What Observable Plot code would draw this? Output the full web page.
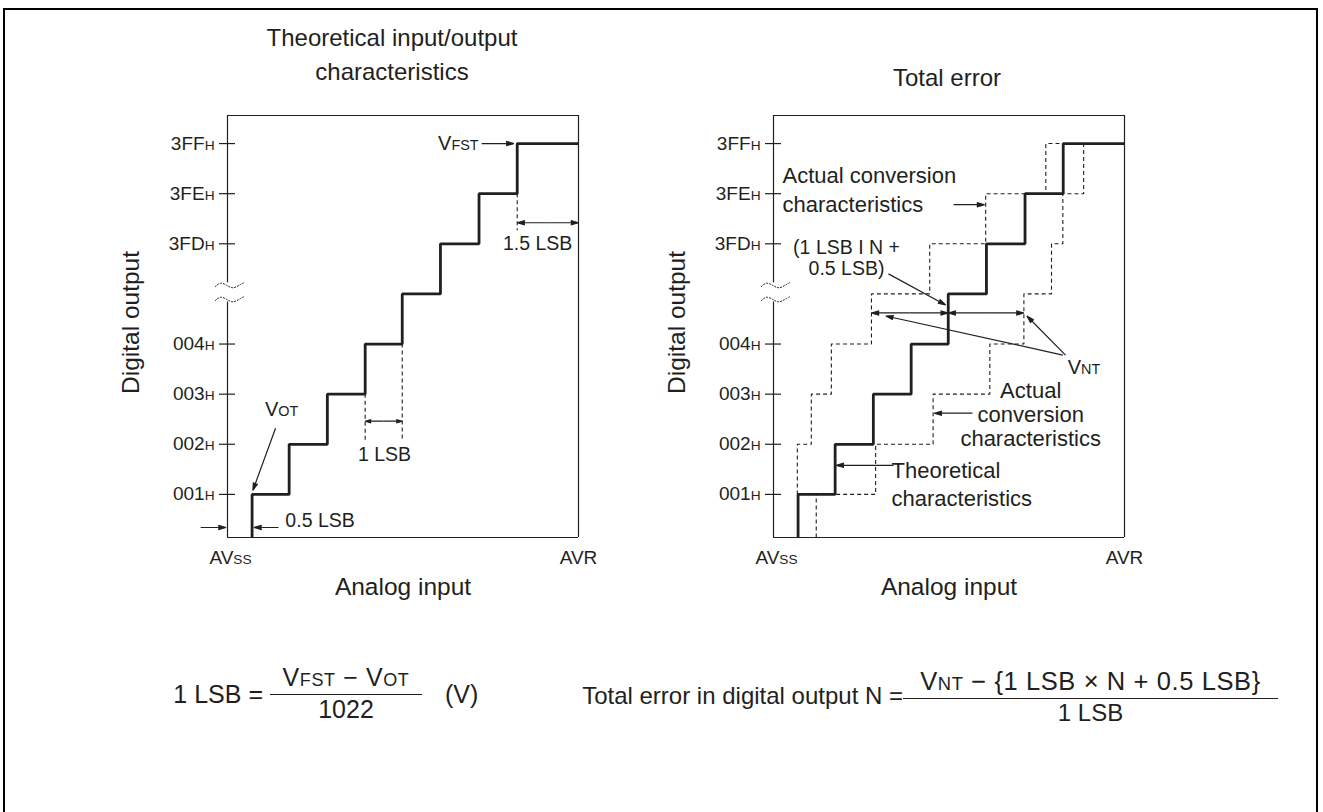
<!DOCTYPE html>
<html>
<head>
<meta charset="utf-8">
<script src="https://cdn.jsdelivr.net/npm/d3@7"></script>
<script src="https://cdn.jsdelivr.net/npm/@observablehq/plot@0.6"></script>
<style>
  html, body { margin: 0; padding: 0; background: #fff; }
  #page { position: relative; width: 1323px; height: 812px; overflow: hidden; background: #fff;
          font-family: "Liberation Sans", Arial, Helvetica, sans-serif; color: #231f20; }
  .frame { position: absolute; left: 3px; top: 8px; width: 1311px; height: 900px; border: 2.5px solid #000; }
  .abs { position: absolute; white-space: nowrap; }
  .title { font-size: 24px; line-height: 34px; text-align: center; }
  .f { font-size: 25px; line-height: 30px; }
  .s { font-size: 0.72em; }
  .frac { text-align: center; }
  .frac .num { line-height: 28px; border-bottom: 1.6px solid #231f20; }
  .frac .den { line-height: 28px; }
  .plot { position: absolute; }
</style>
</head>
<body>
<div id="page">
  <div class="frame"></div>
  <div class="abs title" style="left:242px; top:21px; width:300px;">Theoretical input/output<br>characteristics</div>
  <div class="abs title" style="left:797px; top:61px; width:300px;">Total error</div>

  <div class="abs f" style="left:143px; top:679px; width:120px; text-align:right;">1 LSB =</div>
  <div class="abs f frac" style="left:270px; top:663px; width:152px;">
    <div class="num" style="letter-spacing:0.6px;">V<span class="s">FST</span> − V<span class="s">OT</span></div>
    <div class="den">1022</div>
  </div>
  <div class="abs f" style="left:445px; top:679px;">(V)</div>

  <div class="abs f" style="left:503px; top:681px; width:400px; text-align:right; font-size:24px;">Total error in digital output N =</div>
  <div class="abs f frac" style="left:903px; top:667px; width:375px; font-size:24px;">
    <div class="num" style="font-size:25.5px; letter-spacing:0.6px;">V<span class="s">NT</span> − {1 LSB × N + 0.5 LSB}</div>
    <div class="den">1 LSB</div>
  </div>

  <div id="left" class="plot" style="left:100px; top:100px;"></div>
  <div id="right" class="plot" style="left:646px; top:100px;"></div>
</div>
<script>
// ---------- data (x in LSB units from AVss, y in code rows) ----------
const levelCodes = ["001", "002", "003", "004", "3FD", "3FE", "3FF"];
const levelTicks = [1, 2, 3, 4, 6, 7, 8];
const xMax = 9.28;          // AVR
const yMin = 0.14, yMax = 8.56;
const breakLo = 4.84, breakHi = 5.22;
// theoretical characteristic: x where output steps up to row i+1
const theoryRise = [0.65, 1.63, 2.64, 3.64, 4.62, 5.63, 6.65, 7.66];
// actual conversion (early): starts at row 1, x where it steps up to rows 2..8
const earlyRise = [0.63, 1.0, 1.53, 2.59, 4.13, 5.61, 7.2];
// actual conversion (late): x where it steps up to rows 1..8
const lateRise = [1.13, 2.7, 4.22, 5.72, 6.62, 7.35, 7.65, 8.2];
// axis break symbol (offsets)
const waveDx = [-0.32, -0.18, -0.02, 0.14, 0.3, 0.42];
const waveDy = [-0.02, 0.07, 0.0, -0.07, 0.0, 0.05];

const ink = "#231f20";
const font = '"Liberation Sans", Arial, Helvetica, sans-serif';

const theoryPts = [{x: theoryRise[0], y: yMin}, ...theoryRise.map((x, i) => ({x, y: i + 1})), {x: xMax, y: 8}];
const earlyPts = [{x: earlyRise[0], y: 1}, ...earlyRise.map((x, i) => ({x, y: i + 2})), {x: theoryRise[7], y: 8}];
const latePts = [{x: lateRise[0], y: yMin}, ...lateRise.map((x, i) => ({x, y: i + 1}))];
const wavePts = [breakHi - 0.05, breakLo + 0.05].flatMap((b, k) =>
  waveDx.map((dx, i) => ({x: dx, y: b + waveDy[i], k})));

function axisMarks() {
  return [
    Plot.ruleY([yMin, yMax], {x1: 0, x2: xMax, stroke: ink, strokeWidth: 1.2}),
    Plot.ruleX([xMax], {y1: yMin, y2: yMax, stroke: ink, strokeWidth: 1.2}),
    Plot.ruleX([{a: yMin, b: breakLo}, {a: breakHi, b: yMax}], {x: () => 0, y1: "a", y2: "b", stroke: ink, strokeWidth: 1.2}),
    Plot.line(wavePts, {x: "x", y: "y", z: "k", curve: "basis", stroke: ink, strokeWidth: 1, strokeDasharray: "1.2 1.8"}),
    Plot.ruleY(levelTicks, {x1: 0, x2: 0, insetLeft: -8, insetRight: -8, stroke: ink, strokeWidth: 1.2}),
    Plot.text(levelTicks, {x: () => 0, y: d => d, text: (d, i) => levelCodes[i] + "_H", textAnchor: "end", dx: -13, fontSize: 19}),
    Plot.text(["AV_SS"], {x: () => 0, frameAnchor: "bottom", lineAnchor: "middle", dy: 20, dx: 3, fontSize: 19}),
    Plot.text(["AVR"], {x: () => xMax, frameAnchor: "bottom", lineAnchor: "middle", dy: 20, fontSize: 19}),
    Plot.text(["Analog input"], {frameAnchor: "bottom", lineAnchor: "middle", dy: 50, fontSize: 24.5}),
    Plot.text(["Digital output"], {frameAnchor: "left", textAnchor: "middle", rotate: -90, dx: -96, dy: -4, fontSize: 24.5})
  ];
}

function dbl(x1, x2, y) {
  const m = (x1 + x2) / 2;
  return [{x1: m, y1: y, x2: x1, y2: y}, {x1: m, y1: y, x2: x2, y2: y}];
}
function arrows(data) {
  return Plot.arrow(data, {x1: "x1", y1: "y1", x2: "x2", y2: "y2", stroke: ink, fill: ink, strokeWidth: 1.2,
    headLength: 10, headAngle: 32, strokeLinecap: "butt", strokeLinejoin: "miter"});
}
function stepLine(pts, dashed) {
  return Plot.line(pts, {x: "x", y: "y", curve: "step-after", stroke: ink,
    strokeWidth: dashed ? 1.1 : 2.8, strokeDasharray: dashed ? "4 3" : null,
    strokeLinejoin: "miter", strokeLinecap: "butt"});
}

function subs(svg) {
  svg.querySelectorAll("text").forEach(t => {
    if (t.children.length) return;
    const s = t.textContent;
    if (!s.includes("_")) return;
    const parts = s.split("_");
    t.textContent = "";
    parts.forEach((p, i) => {
      if (i % 2 === 0) t.appendChild(document.createTextNode(p));
      else {
        const ts = document.createElementNS("http://www.w3.org/2000/svg", "tspan");
        ts.setAttribute("font-size", "0.72em");
        ts.textContent = p;
        t.appendChild(ts);
      }
    });
  });
  return svg;
}

const common = {
  width: 520, height: 510,
  marginLeft: 127, marginRight: 42, marginTop: 15, marginBottom: 73,
  x: {domain: [0, xMax], axis: null},
  y: {domain: [yMin, yMax], axis: null},
  style: {fontFamily: font, fontSize: "18px", color: ink, background: "none", overflow: "visible"}
};

// ---------- left: theoretical ----------
const left = Plot.plot({
  ...common,
  marks: [
    ...axisMarks(),
    Plot.ruleX([{x: theoryRise[3], a: 3, b: 2.08}, {x: theoryRise[4], a: 4, b: 2.08}, {x: theoryRise[7], a: 7, b: 6.26}],
      {x: "x", y1: "a", y2: "b", stroke: ink, strokeWidth: 1.1, strokeDasharray: "4 3"}),
    stepLine(theoryPts, false),
    arrows([
      {x1: 6.72, y1: 8, x2: 7.57, y2: 8},
      ...dbl(theoryRise[7], xMax, 6.42),
      ...dbl(theoryRise[3], theoryRise[4], 2.46),
      {x1: 1.27, y1: 2.32, x2: 0.67, y2: 1.08},
      {x1: -0.71, y1: 0.34, x2: -0.04, y2: 0.34},
      {x1: 1.35, y1: 0.34, x2: 0.7, y2: 0.34}
    ]),
    Plot.text(["V_FST"], {x: () => 6.64, y: () => 8, textAnchor: "end", fontSize: 20}),
    Plot.text(["1.5 LSB"], {x: () => 8.2, y: () => 6.0, fontSize: 19.5}),
    Plot.text(["1 LSB"], {x: () => 4.15, y: () => 1.8, fontSize: 19.5}),
    Plot.text(["V_OT"], {x: () => 1.43, y: () => 2.7, fontSize: 20}),
    Plot.text(["0.5 LSB"], {x: () => 1.53, y: () => 0.48, textAnchor: "start", fontSize: 19.5})
  ]
});
document.getElementById("left").appendChild(subs(left));

// ---------- right: total error ----------
const right = Plot.plot({
  ...common,
  marks: [
    ...axisMarks(),
    stepLine(earlyPts, true),
    stepLine(latePts, true),
    stepLine(theoryPts, false),
    arrows([
      {x1: 4.76, y1: 6.78, x2: 5.58, y2: 6.78},
      {x1: 3.04, y1: 5.4, x2: 4.55, y2: 4.78},
      ...dbl(earlyRise[3], theoryRise[4], 4.62),
      ...dbl(theoryRise[4], lateRise[4], 4.62),
      {x1: 7.72, y1: 3.78, x2: 6.7, y2: 4.56},
      {x1: 7.65, y1: 3.78, x2: 2.97, y2: 4.56},
      {x1: 5.26, y1: 2.62, x2: 4.25, y2: 2.62},
      {x1: 3.17, y1: 1.58, x2: 1.66, y2: 1.58}
    ]),
    Plot.text(["Actual conversion\ncharacteristics"], {x: () => 0.24, y: () => 7.11, textAnchor: "start", fontSize: 22, lineHeight: 1.32}),
    Plot.text(["(1 LSB I N +\n0.5 LSB)"], {x: () => 1.93, y: () => 5.72, fontSize: 19.5, lineHeight: 1.05}),
    Plot.text(["V_NT"], {x: () => 7.78, y: () => 3.54, textAnchor: "start", fontSize: 20}),
    Plot.text(["Actual\nconversion\ncharacteristics"], {x: () => 6.8, y: () => 2.6, fontSize: 22, lineHeight: 1.1}),
    Plot.text(["Theoretical\ncharacteristics"], {x: () => 3.12, y: () => 1.22, textAnchor: "start", fontSize: 22, lineHeight: 1.27})
  ]
});
document.getElementById("right").appendChild(subs(right));
</script>
</body>
</html>
